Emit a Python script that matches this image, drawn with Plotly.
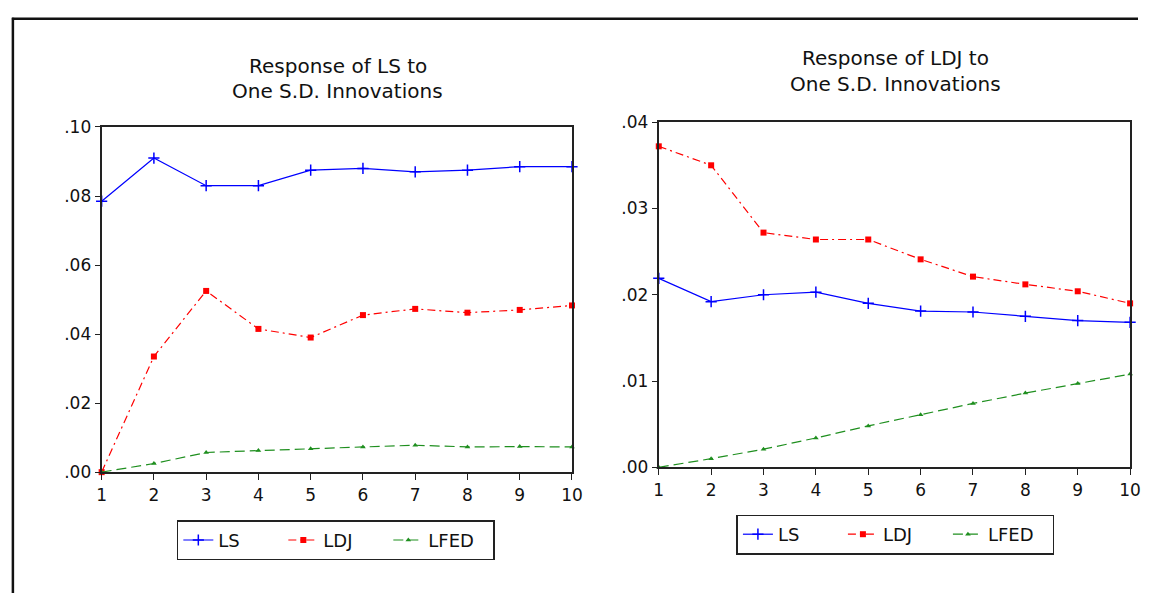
import plotly.graph_objects as go

periods = list(range(1, 11))

# Response of LS to one S.D. innovations
ls_resp_ls = [0.0785, 0.0910, 0.0830, 0.0830, 0.0875, 0.0880, 0.0870, 0.0875, 0.0885, 0.0885]
ls_resp_ldj = [0.0000, 0.0335, 0.0525, 0.0415, 0.0390, 0.0455, 0.0473, 0.0462, 0.0470, 0.0483]
ls_resp_lfed = [0.0000, 0.0025, 0.0057, 0.0063, 0.0068, 0.0073, 0.0078, 0.0073, 0.0074, 0.0073]

# Response of LDJ to one S.D. innovations
ldj_resp_ls = [0.0219, 0.0192, 0.0200, 0.0203, 0.0190, 0.0181, 0.0180, 0.0175, 0.0170, 0.0168]
ldj_resp_ldj = [0.0372, 0.0350, 0.0272, 0.0264, 0.0264, 0.0241, 0.0221, 0.0212, 0.0204, 0.0190]
ldj_resp_lfed = [0.0000, 0.0010, 0.0021, 0.0034, 0.0048, 0.0061, 0.0074, 0.0086, 0.0097, 0.0108]

left_yticks = [0.00, 0.02, 0.04, 0.06, 0.08, 0.10]
left_yticklabels = [".00", ".02", ".04", ".06", ".08", ".10"]
right_yticks = [0.00, 0.01, 0.02, 0.03, 0.04]
right_yticklabels = [".00", ".01", ".02", ".03", ".04"]

titles_left = ["Response of LS to", "One S.D. Innovations"]
titles_right = ["Response of LDJ to", "One S.D. Innovations"]

W, H = 1149, 603
FONT = "DejaVu Sans"


def px(x):
    return x / W


def py(y):
    return 1 - y / H


fig = go.Figure()

styles = {
    "LS": dict(line=dict(color="#0000ff", width=1.2, dash="solid"),
               marker=dict(symbol="cross-thin", size=8, line=dict(color="#0000ff", width=1.5), color="#0000ff")),
    "LDJ": dict(line=dict(color="#ff0000", width=1.2, dash="8px,4px,2px,4px"),
                marker=dict(symbol="square", size=6, color="#ff0000")),
    "LFED": dict(line=dict(color="#1f8f1f", width=1.2, dash="10px,5px"),
                 marker=dict(symbol="triangle-up", size=5, color="#1f8f1f")),
}

for name, ys in [("LS", ls_resp_ls), ("LDJ", ls_resp_ldj), ("LFED", ls_resp_lfed)]:
    fig.add_trace(go.Scatter(x=periods, y=ys, name=name, mode="lines+markers",
                             xaxis="x", yaxis="y", legend="legend", cliponaxis=False,
                             **styles[name]))
for name, ys in [("LS", ldj_resp_ls), ("LDJ", ldj_resp_ldj), ("LFED", ldj_resp_lfed)]:
    fig.add_trace(go.Scatter(x=periods, y=ys, name=name, mode="lines+markers",
                             xaxis="x2", yaxis="y2", legend="legend2", cliponaxis=False,
                             **styles[name]))

axis_common = dict(showline=True, mirror=True, linecolor="#222", linewidth=2,
                   showgrid=False, zeroline=False, ticks="outside", tickcolor="#222",
                   tickfont=dict(family=FONT, size=17, color="#111"))

legend_common = dict(orientation="h", xanchor="center", yanchor="middle",
                     bordercolor="#222", borderwidth=1.5, bgcolor="white",
                     entrywidth=60, entrywidthmode="pixels",
                     font=dict(family=FONT, size=18, color="#111"))

fig.update_layout(
    width=W, height=H,
    margin=dict(l=0, r=0, t=0, b=0),
    paper_bgcolor="white", plot_bgcolor="white",
    font=dict(family=FONT, color="#111"),
    xaxis=dict(domain=[px(98), px(575)], range=[1, 10], tickvals=periods, ticklen=6,
               anchor="y", **axis_common),
    yaxis=dict(domain=[py(478), py(121)], range=[0, 0.10], tickvals=left_yticks,
               ticktext=left_yticklabels, ticklen=5, anchor="x", **axis_common),
    xaxis2=dict(domain=[px(663), px(1141)], range=[1, 10], tickvals=periods, ticklen=6,
                anchor="y2", **axis_common),
    yaxis2=dict(domain=[py(473), py(116)], range=[0, 0.04], tickvals=right_yticks,
                ticktext=right_yticklabels, ticklen=5, anchor="x2", **axis_common),
    legend=dict(x=px(335.5), y=py(548.5), **legend_common),
    legend2=dict(x=px(903), y=py(542.5), **legend_common),
    showlegend=True,
)

# titles
for text, yy in zip(titles_left, [58, 84]):
    fig.add_annotation(text=text, x=px(337.5), y=py(yy), xref="paper", yref="paper",
                       showarrow=False, xanchor="center", yanchor="middle",
                       font=dict(family=FONT, size=20, color="#111"))
for text, yy in zip(titles_right, [50, 77]):
    fig.add_annotation(text=text, x=px(903), y=py(yy), xref="paper", yref="paper",
                       showarrow=False, xanchor="center", yanchor="middle",
                       font=dict(family=FONT, size=20, color="#111"))

# outer frame
fig.add_shape(type="line", xref="paper", yref="paper", x0=px(7), y0=py(9), x1=1.0, y1=py(9),
              line=dict(color="#111", width=2.5))
fig.add_shape(type="line", xref="paper", yref="paper", x0=px(8), y0=py(8), x1=px(8), y1=0,
              line=dict(color="#111", width=2.5))

fig.write_html("out.html",
               config={"displayModeBar": False},
               post_script="document.body.style.margin='0';document.body.style.overflow='hidden';")
